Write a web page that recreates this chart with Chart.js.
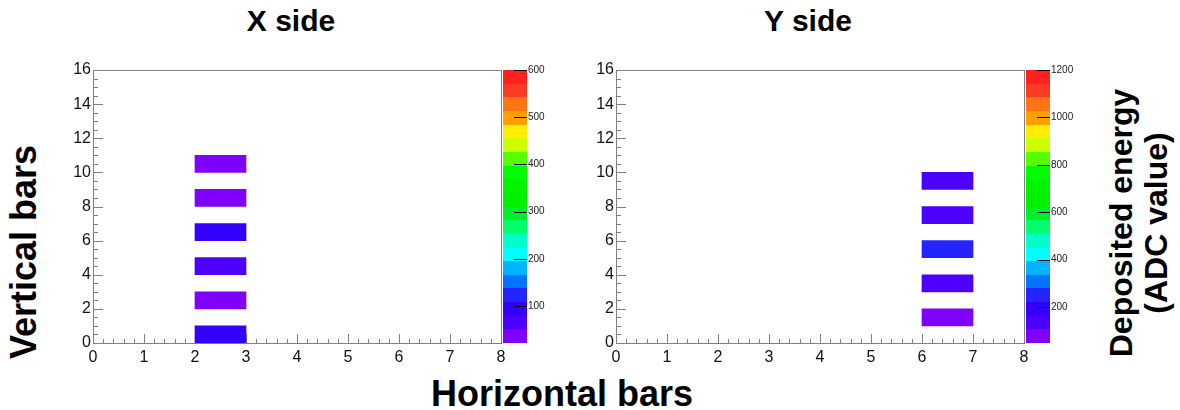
<!DOCTYPE html>
<html>
<head>
<meta charset="utf-8">
<script src="https://cdn.jsdelivr.net/npm/chart.js@4.4.1/dist/chart.umd.min.js"></script>
<style>
    body { margin: 0; background: #ffffff; }
    #wrap { position: relative; width: 1180px; height: 410px; overflow: hidden; font-family: 'Liberation Sans', Arial, sans-serif; }
    canvas { position: absolute; }
    .lbl { position: absolute; font-weight: bold; color: #000; white-space: nowrap; line-height: 1; }
    .rot { transform: translate(-50%, -50%) rotate(-90deg); }
    .ctr { transform: translate(-50%, -50%); }
</style>
</head>
<body>
<div id="wrap">
    <div class="lbl ctr" style="left:291px; top:21px; font-size:30px;">X side</div>
    <div class="lbl ctr" style="left:808px; top:21px; font-size:30px;">Y side</div>
    <div class="lbl rot" style="left:24px; top:252px; font-size:36px;">Vertical bars</div>
    <div class="lbl ctr" style="left:562px; top:394px; font-size:36px;">Horizontal bars</div>
    <div class="lbl rot" style="left:1121px; top:223px; font-size:32px;">Deposited energy</div>
    <div class="lbl rot" style="left:1156px; top:223px; font-size:32px;">(ADC value)</div>
    <canvas id="chartX" width="550" height="330" style="left:40px; top:50px;"></canvas>
    <canvas id="chartY" width="550" height="330" style="left:563px; top:50px;"></canvas>
</div>
<script>
// X side hits: lower bin edges (column, row) and ADC value
const xSideCol = [2, 2, 2, 2, 2, 2];
const xSideRow = [0, 2, 4, 6, 8, 10];
const xSideAdc = [95, 40, 65, 100, 38, 22];

// Y side hits
const ySideCol = [6, 6, 6, 6, 6];
const ySideRow = [1, 3, 5, 7, 9];
const ySideAdc = [48, 150, 240, 130, 120];

// Axis ticks and colour scale ranges
const xTicks = [0, 1, 2, 3, 4, 5, 6, 7, 8];
const yTicks = [0, 2, 4, 6, 8, 10, 12, 14, 16];
const zTicksX = [100, 200, 300, 400, 500, 600];
const zTicksY = [200, 400, 600, 800, 1000, 1200];
const zRangeX = [22, 600];
const zRangeY = [48, 1200];

// 20 contour colours, low -> high
const palette = [
    '#8000ff', '#4c00ff', '#3300ff', '#2424ff', '#0074ff',
    '#00b4ff', '#00ffff', '#00ffc8', '#00ff6a', '#00f028',
    '#00f000', '#00f400', '#00ff00', '#55ff00', '#ccff00',
    '#ffee00', '#ffa000', '#ff7414', '#ff3a24', '#ff2020'
];

const tickFont = { family: "'Liberation Sans', Arial, sans-serif", size: 16 };
const frameColor = '#808080';

const makeChart = (canvasId, cols, rows, adc, zRange, zTicks) => {
    const colorFor = (v) => {
        const k = Math.floor((v - zRange[0]) / (zRange[1] - zRange[0]) * palette.length);
        return palette[Math.max(0, Math.min(palette.length - 1, k))];
    };
    const cells = cols.map((c, i) => ({ x: c + 0.5, y: [rows[i], rows[i] + 1] }));

    // ROOT style frame, inner ticks and colour palette
    const rootFrame = {
        id: 'rootFrame',
        beforeDatasetsDraw(chart) {
            const { ctx, chartArea: a, scales: { x, y } } = chart;
            ctx.save();
            ctx.strokeStyle = frameColor;
            ctx.lineWidth = 1;
            ctx.beginPath();
            for (let i = 0; i <= 40; i++) {
                const px = Math.round(x.getPixelForValue(i / 5)) + 0.5;
                const len = i % 5 === 0 ? 9 : 4;
                ctx.moveTo(px, a.bottom);
                ctx.lineTo(px, a.bottom - len);
            }
            for (let i = 0; i <= 32; i++) {
                const py = Math.round(y.getPixelForValue(i / 2)) + 0.5;
                const len = i % 4 === 0 ? 10 : 5;
                ctx.moveTo(a.left, py);
                ctx.lineTo(a.left + len, py);
            }
            ctx.stroke();
            ctx.restore();
        },
        afterDraw(chart) {
            const { ctx, chartArea: a, scales: { z } } = chart;
            ctx.save();
            ctx.strokeStyle = frameColor;
            ctx.lineWidth = 1;
            ctx.strokeRect(Math.round(a.left) + 0.5, Math.round(a.top) + 0.5,
                Math.round(a.right - a.left), Math.round(a.bottom - a.top));

            const x0 = Math.round(a.right) + 2;
            const w = 24;
            const span = zRange[1] - zRange[0];
            palette.forEach((c, k) => {
                const p0 = Math.round(z.getPixelForValue(zRange[0] + span * k / palette.length));
                const p1 = Math.round(z.getPixelForValue(zRange[0] + span * (k + 1) / palette.length));
                ctx.fillStyle = c;
                ctx.fillRect(x0, p1, w, p0 - p1);
            });
            ctx.strokeStyle = '#000';
            ctx.beginPath();
            z.ticks.forEach(t => {
                const py = Math.round(z.getPixelForValue(t.value)) + 0.5;
                ctx.moveTo(x0 + w - 13, py);
                ctx.lineTo(x0 + w, py);
            });
            ctx.stroke();
            ctx.restore();
        }
    };

    return new Chart(document.getElementById(canvasId), {
        type: 'bar',
        data: {
            datasets: [{
                data: cells,
                xAxisID: 'x',
                yAxisID: 'y',
                backgroundColor: adc.map(colorFor),
                borderWidth: 0,
                barPercentage: 1,
                categoryPercentage: 1
            }]
        },
        options: {
            responsive: false,
            animation: false,
            devicePixelRatio: 1,
            layout: { padding: { top: 20, left: 0, right: 0, bottom: 0 } },
            plugins: {
                legend: { display: false },
                tooltip: { enabled: false }
            },
            scales: {
                x: {
                    type: 'linear',
                    min: 0,
                    max: 8,
                    offset: false,
                    grid: { display: false, drawTicks: false, offset: false },
                    border: { display: false },
                    ticks: { padding: 5, font: tickFont, color: '#111', autoSkip: false, maxRotation: 0 },
                    afterBuildTicks: (s) => { s.ticks = xTicks.map(v => ({ value: v })); },
                    afterFit: (s) => { s.height = 37; }
                },
                y: {
                    type: 'linear',
                    min: 0,
                    max: 16,
                    grid: { display: false, drawTicks: false },
                    border: { display: false },
                    ticks: { padding: 2, font: tickFont, color: '#111', autoSkip: false },
                    afterBuildTicks: (s) => { s.ticks = yTicks.map(v => ({ value: v })); },
                    afterFit: (s) => { s.width = 53; }
                },
                z: {
                    type: 'linear',
                    axis: 'y',
                    position: 'right',
                    min: zRange[0],
                    max: zRange[1],
                    beginAtZero: false,
                    grid: { display: false, drawTicks: false },
                    border: { display: false },
                    ticks: {
                        padding: 27,
                        color: '#222',
                        autoSkip: false,
                        callback: (v) => String(v),
                        font: { family: "'Liberation Sans', Arial, sans-serif", size: 10 }
                    },
                    afterBuildTicks: (s) => { s.ticks = zTicks.map(v => ({ value: v })); },
                    afterFit: (s) => {
                        s.width = 89;
                        s.paddingTop = 0;
                        s.paddingBottom = 0;
                    }
                }
            }
        },
        plugins: [rootFrame]
    });
};

makeChart('chartX', xSideCol, xSideRow, xSideAdc, zRangeX, zTicksX);
makeChart('chartY', ySideCol, ySideRow, ySideAdc, zRangeY, zTicksY);
</script>
</body>
</html>
